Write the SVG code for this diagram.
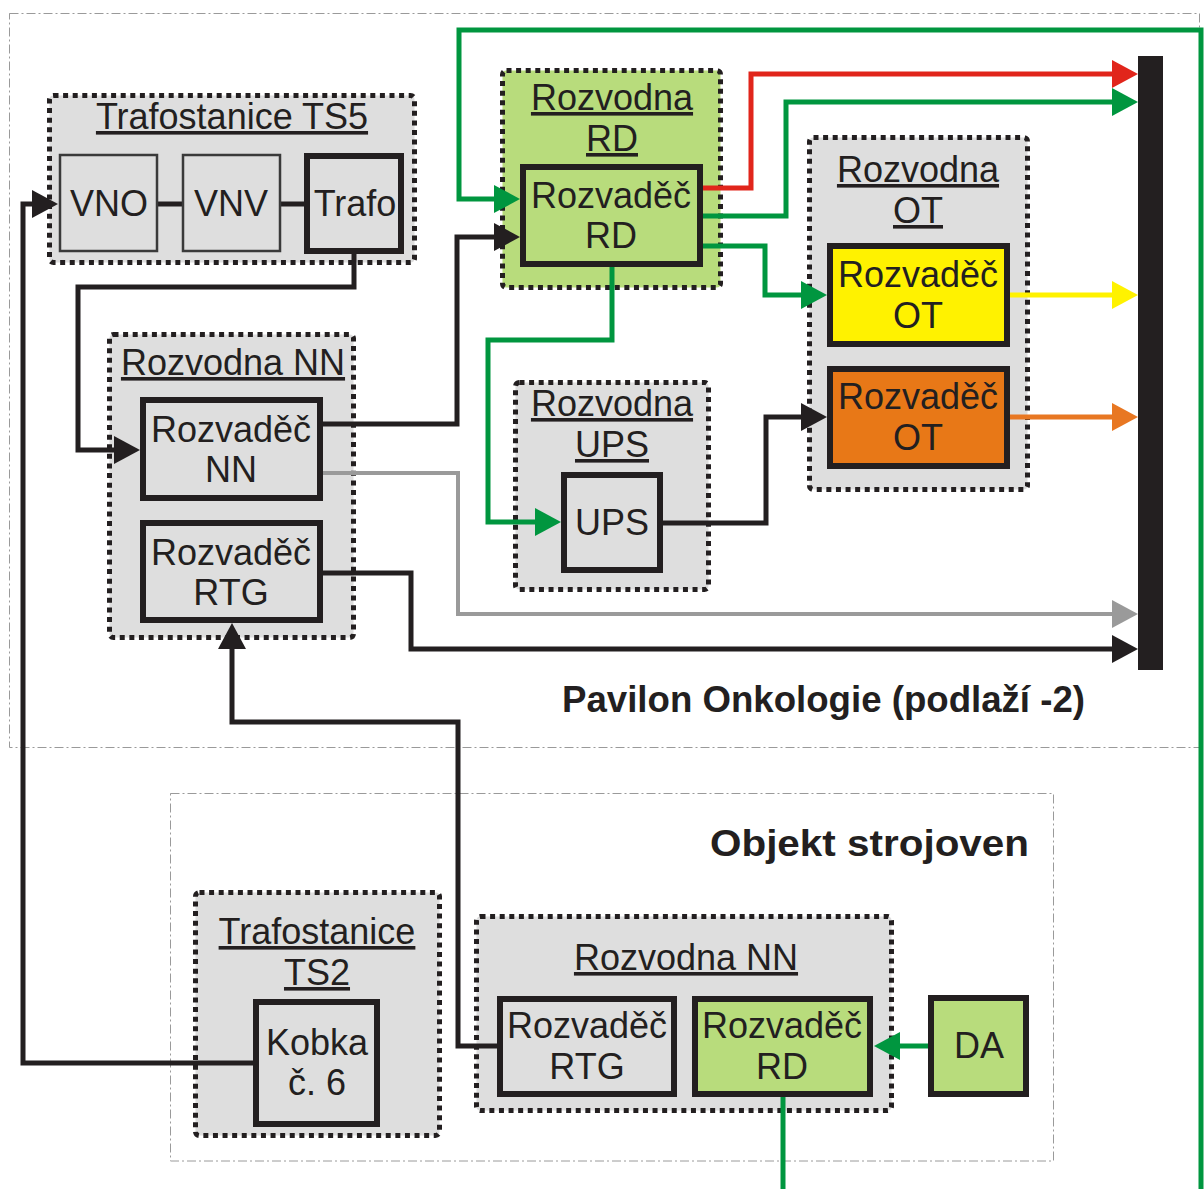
<svg xmlns="http://www.w3.org/2000/svg" width="1204" height="1189" viewBox="0 0 1204 1189">
<style>
text{font-family:"Liberation Sans",Arial,sans-serif;font-size:36px;fill:#231f20;text-anchor:middle}
.u{text-decoration:underline}
.b{font-weight:bold;text-anchor:start}
.area{fill:none;stroke:#9a9a9a;stroke-width:1;stroke-dasharray:9 3 2 3}
.grp{fill:#dedede;stroke:#231f20;stroke-width:5;stroke-dasharray:5 4.6}
.node{fill:#dedede;stroke:#231f20;stroke-width:6}
.grn{fill:#b8dc7c}
.ye{fill:#fff200}
.or{fill:#e87817}
.thin{stroke-width:2.5;stroke:#3a3a3a}
.c{fill:none;stroke-width:5;stroke-linejoin:miter}
.k{stroke:#231f20}.g{stroke:#00963f}.r{stroke:#e1251b}.y{stroke:#fff200}.o{stroke:#e87722}.s{stroke:#9a9a9a;stroke-width:4}
</style>
<defs>
<marker id="ak" markerUnits="userSpaceOnUse" markerWidth="26" markerHeight="28" refX="14" refY="14" orient="auto"><path d="M0,0L26,14L0,28z" fill="#231f20"/></marker>
<marker id="ag" markerUnits="userSpaceOnUse" markerWidth="26" markerHeight="28" refX="14" refY="14" orient="auto"><path d="M0,0L26,14L0,28z" fill="#00963f"/></marker>
<marker id="ar" markerUnits="userSpaceOnUse" markerWidth="26" markerHeight="28" refX="14" refY="14" orient="auto"><path d="M0,0L26,14L0,28z" fill="#e1251b"/></marker>
<marker id="ay" markerUnits="userSpaceOnUse" markerWidth="26" markerHeight="28" refX="14" refY="14" orient="auto"><path d="M0,0L26,14L0,28z" fill="#fff200"/></marker>
<marker id="ao" markerUnits="userSpaceOnUse" markerWidth="26" markerHeight="28" refX="14" refY="14" orient="auto"><path d="M0,0L26,14L0,28z" fill="#e87722"/></marker>
<marker id="as" markerUnits="userSpaceOnUse" markerWidth="26" markerHeight="28" refX="14" refY="14" orient="auto"><path d="M0,0L26,14L0,28z" fill="#9a9a9a"/></marker>
</defs>
<rect width="1204" height="1189" fill="#ffffff"/>

<g id="area-pavilon">
<rect class="area" x="9.5" y="13.5" width="1190" height="734"/>
<text class="b" x="562" y="712" font-size="35" textLength="523" lengthAdjust="spacingAndGlyphs">Pavilon Onkologie (podlaží -2)</text>
</g>
<g id="area-objekt">
<rect class="area" x="170.5" y="793.5" width="883" height="367.5"/>
<text class="b" x="710" y="856" font-size="40" textLength="319" lengthAdjust="spacingAndGlyphs">Objekt strojoven</text>
</g>

<g id="grp-ts5">
<rect class="grp" x="49.5" y="95.5" width="365" height="167" rx="4"/>
<text class="u" x="232" y="129">Trafostanice TS5</text>
</g>
<g id="grp-rd">
<rect class="grp grn" x="502.5" y="70.5" width="218" height="217" rx="4"/>
<text class="u" x="612" y="110">Rozvodna</text>
<text class="u" x="612" y="151">RD</text>
</g>
<g id="grp-ot">
<rect class="grp" x="809.5" y="137.5" width="218" height="352" rx="4"/>
<text class="u" x="918" y="182">Rozvodna</text>
<text class="u" x="918" y="223">OT</text>
</g>
<g id="grp-ups">
<rect class="grp" x="515.5" y="382.5" width="193" height="207" rx="4"/>
<text class="u" x="612" y="416">Rozvodna</text>
<text class="u" x="612" y="457">UPS</text>
</g>
<g id="grp-nn">
<rect class="grp" x="109.5" y="334.5" width="244" height="303" rx="4"/>
<text class="u" x="233" y="375">Rozvodna NN</text>
</g>
<g id="grp-ts2">
<rect class="grp" x="195.5" y="892.5" width="244" height="243" rx="4"/>
<text class="u" x="317" y="944">Trafostanice</text>
<text class="u" x="317" y="985">TS2</text>
</g>
<g id="grp-nn2">
<rect class="grp" x="476.5" y="916.5" width="415" height="194" rx="4"/>
<text class="u" x="686" y="970">Rozvodna NN</text>
</g>

<g id="connectors">
<path class="c k" d="M158,204H183M281,204H307" stroke-width="6"/>
<path class="c k" d="M354,254V287H78V450H128" marker-end="url(#ak)"/>
<path class="c k" d="M253,1063H23V204H46" marker-end="url(#ak)"/>
<path class="c k" d="M323,424H457V237H508" marker-end="url(#ak)"/>
<path class="c s" d="M323,473H458V614H1126" marker-end="url(#as)"/>
<path class="c k" d="M323,573H411V649H1126" marker-end="url(#ak)"/>
<path class="c k" d="M497,1046H458V722H232V635" marker-end="url(#ak)"/>
<path class="c g" d="M1201,1189V30H459V199H508" marker-end="url(#ag)"/>
<path class="c g" d="M783,1097V1189"/>
<path class="c g" d="M928,1046H886" marker-end="url(#ag)"/>
<path class="c r" d="M703,188H751V74H1126" marker-end="url(#ar)"/>
<path class="c g" d="M703,216H786V102H1126" marker-end="url(#ag)"/>
<path class="c g" d="M703,246H765V295H815" marker-end="url(#ag)"/>
<path class="c g" d="M612,267V340H488V522H549" marker-end="url(#ag)"/>
<path class="c k" d="M663,523H766V417H815" marker-end="url(#ak)"/>
<path class="c y" d="M1010,295H1126" marker-end="url(#ay)"/>
<path class="c o" d="M1010,417H1126" marker-end="url(#ao)"/>
</g>

<g id="bus"><rect x="1138" y="56" width="25" height="614" fill="#231f20"/></g>

<g id="vno"><rect class="node thin" x="60" y="155" width="97" height="96"/><text x="109" y="216">VNO</text></g>
<g id="vnv"><rect class="node thin" x="183" y="155" width="97" height="96"/><text x="231" y="216">VNV</text></g>
<g id="trafo"><rect class="node" x="307" y="156" width="94" height="95"/><text x="355" y="216">Trafo</text></g>
<g id="rozvadec-rd"><rect class="node grn" x="523" y="167" width="177" height="97"/><text x="611" y="208">Rozvaděč</text><text x="611" y="248">RD</text></g>
<g id="rozvadec-ot1"><rect class="node ye" x="830" y="246" width="177" height="98"/><text x="918" y="287">Rozvaděč</text><text x="918" y="328">OT</text></g>
<g id="rozvadec-ot2"><rect class="node or" x="830" y="369" width="177" height="97"/><text x="918" y="409">Rozvaděč</text><text x="918" y="450">OT</text></g>
<g id="ups"><rect class="node" x="564" y="475" width="96" height="95"/><text x="612" y="535">UPS</text></g>
<g id="rozvadec-nn"><rect class="node" x="143" y="400" width="177" height="98"/><text x="231" y="442">Rozvaděč</text><text x="231" y="482">NN</text></g>
<g id="rozvadec-rtg"><rect class="node" x="143" y="523" width="177" height="97"/><text x="231" y="565">Rozvaděč</text><text x="231" y="605">RTG</text></g>
<g id="kobka"><rect class="node" x="256" y="1002" width="121" height="122"/><text x="317" y="1055">Kobka</text><text x="317" y="1095">č. 6</text></g>
<g id="rozvadec-rtg2"><rect class="node" x="500" y="999" width="174" height="95"/><text x="587" y="1038">Rozvaděč</text><text x="587" y="1079">RTG</text></g>
<g id="rozvadec-rd2"><rect class="node grn" x="695" y="999" width="175" height="95"/><text x="782" y="1038">Rozvaděč</text><text x="782" y="1079">RD</text></g>
<g id="da"><rect class="node grn" x="931" y="998" width="95" height="96"/><text x="979" y="1058">DA</text></g>
</svg>
